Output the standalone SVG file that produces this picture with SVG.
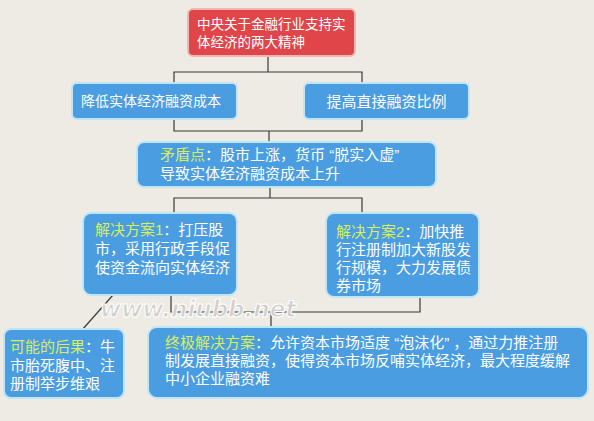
<svg xmlns="http://www.w3.org/2000/svg" width="594" height="421" viewBox="0 0 594 421">
<style>
.bg{fill:#eeebe5}
.red{fill:#df4549;stroke:#f3b5b3;stroke-width:2}
.blue{fill:#4a9de0;stroke:#bfe6f7;stroke-width:2}
.t{font-family:"Liberation Sans","Noto Sans CJK SC",sans-serif;fill:#ffffff;font-size:15px}
.s13{font-size:13.5px}
.s14{font-size:14px}
.hl{fill:#d8ef5b}
.ln{fill:none;stroke:#3a3a3a;stroke-width:1.2}
.wm{font-family:"DejaVu Sans",sans-serif;font-style:italic;font-weight:bold;font-size:23px;fill:#d2d0cc;stroke:#ffffff;stroke-width:1}
</style>
<rect class="bg" x="0" y="0" width="594" height="421"/>
<g id="connectors">
<path class="ln" d="M268 56 V72 M174 83 V72 H362 V83"/>
<path class="ln" d="M174 119 V131 H362 V119 M269 131 V142"/>
<path class="ln" d="M270 187 V198 M174 213 V198 H362 V213"/>
<path class="ln" d="M171 295 V312 H420 V297 M271 312 V327"/>
<path class="ln" d="M113 295 L82 330"/>
</g>
<g id="n1">
<rect class="red" x="188" y="9" width="167" height="47" rx="5"/>
<text class="t s13" x="197" y="29">中央关于金融行业支持实<tspan x="197" dy="18">体经济的两大精神</tspan></text>
</g>
<g id="n2">
<rect class="blue" x="72" y="83" width="165" height="36" rx="5"/>
<text class="t s14" x="81" y="106">降低实体经济融资成本</text>
</g>
<g id="n3">
<rect class="blue" x="304" y="83" width="165" height="36" rx="5"/>
<text class="t" x="386.5" y="107" text-anchor="middle">提高直接融资比例</text>
</g>
<g id="n4">
<rect class="blue" x="137" y="142" width="299" height="45" rx="7"/>
<text class="t" x="160" y="160" xml:space="preserve"><tspan class="hl">矛盾点</tspan>：股市上涨，货币 “脱实入虚”<tspan x="160" dy="19">导致实体经济融资成本上升</tspan></text>
</g>
<g id="n5">
<rect class="blue" x="83" y="213" width="154" height="82" rx="8"/>
<text class="t" x="95" y="235"><tspan class="hl">解决方案1</tspan>：打压股<tspan x="95" dy="19">市，采用行政手段促</tspan><tspan x="95" dy="19">使资金流向实体经济</tspan></text>
</g>
<g id="n6">
<rect class="blue" x="326" y="213" width="153" height="84" rx="8"/>
<text class="t" x="336" y="237"><tspan class="hl">解决方案2</tspan>：加快推<tspan x="336" dy="18">行注册制加大新股发</tspan><tspan x="336" dy="18">行规模，大力发展债</tspan><tspan x="336" dy="18">券市场</tspan></text>
</g>
<g id="n7">
<rect class="blue" x="4" y="329" width="120" height="69" rx="7"/>
<text class="t" x="10" y="352"><tspan class="hl">可能的后果</tspan>：牛<tspan x="10" dy="19">市胎死腹中、注</tspan><tspan x="10" dy="18">册制举步维艰</tspan></text>
</g>
<g id="n8">
<rect class="blue" x="148" y="327" width="440" height="71" rx="9"/>
<text class="t" x="165" y="348" xml:space="preserve"><tspan class="hl">终极解决方案</tspan>：允许资本市场适度 “泡沫化” ，通过力推注册<tspan x="165" dy="18">制发展直接融资，使得资本市场反哺实体经济，最大程度缓解</tspan><tspan x="165" dy="18">中小企业融资难</tspan></text>
</g>
<text class="wm" x="100" y="317">www.niubb.net</text>
</svg>
